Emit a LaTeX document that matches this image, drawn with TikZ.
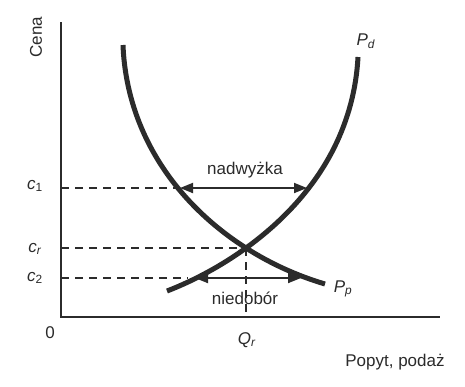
\documentclass[tikz,border=0pt]{standalone}
\usepackage{fontspec}
\setmainfont{Liberation Sans}
\usetikzlibrary{arrows.meta,hobby}
\definecolor{ink}{HTML}{2B2B2B}
\begin{document}
\begin{tikzpicture}[x=1pt,y=-1pt,
  lbl/.style={text=ink,font=\fontsize{17}{19}\selectfont,inner sep=0pt},
  axisline/.style={draw=ink,line width=2pt},
  curve/.style={draw=ink,line width=5pt},
  guide/.style={draw=ink,line width=1.8pt,dash pattern=on 8pt off 6pt},
  gap/.style={draw=ink,line width=1.8pt,{Triangle[length=13pt,width=10pt]}-{Triangle[length=13pt,width=10pt]}}]
\useasboundingbox (0,0) rectangle (465,386);
\fill[white] (0,0) rectangle (465,386);
% axes
\coordinate (O) at (61,317);
\coordinate (ytop) at (61,22);
\coordinate (xend) at (440,317);
\draw[axisline] (ytop) -- (O) -- (xend);
% key points
\coordinate (E) at (246,248);
\coordinate (c1y) at (61,188);
\coordinate (cry) at (61,248);
\coordinate (c2y) at (61,278);
\coordinate (A1) at (180,188);
\coordinate (B1) at (307,188);
\coordinate (A2) at (195,278);
\coordinate (B2) at (301,278);
\coordinate (C2) at (188,278);
\coordinate (Qx) at (246,317);
% guides
\draw[guide] (c1y) -- (A1);
\draw[guide] (cry) -- (E);
\draw[guide] (c2y) -- (C2);
\draw[guide] (E) -- (Qx);
% curves
\draw[curve,use Hobby shortcut] (123,45) .. (146,138) .. (246,248) .. (325,284);
\draw[curve,use Hobby shortcut] (358,57) .. (334,148) .. (246,248) .. (167,291);
% gap arrows
\draw[gap] (A1) -- (B1);
\draw[gap] (A2) -- (B2);
% labels
\node[lbl,rotate=90] (cena) at (36,37) {Cena};
\node[lbl] (lc1) at (35,186) {\textit{c}\textsubscript{1}};
\node[lbl] (lcr) at (35,249) {\textit{c}\textsubscript{\textit{r}}};
\node[lbl] (lc2) at (35,278) {\textit{c}\textsubscript{2}};
\node[lbl] (zero) at (50,333) {0};
\node[lbl] (lq) at (247,340) {\textit{Q}\textsubscript{\textit{r}}};
\node[lbl] (lpd) at (366,41) {\textit{P}\textsubscript{\textit{d}}};
\node[lbl] (lpp) at (343,289) {\textit{P}\textsubscript{\textit{p}}};
\node[lbl] (nad) at (245,170) {nadwyżka};
\node[lbl] (nie) at (245,298) {niedobór};
\node[lbl] (pp) at (395,362) {Popyt, podaż};
\end{tikzpicture}
\end{document}
